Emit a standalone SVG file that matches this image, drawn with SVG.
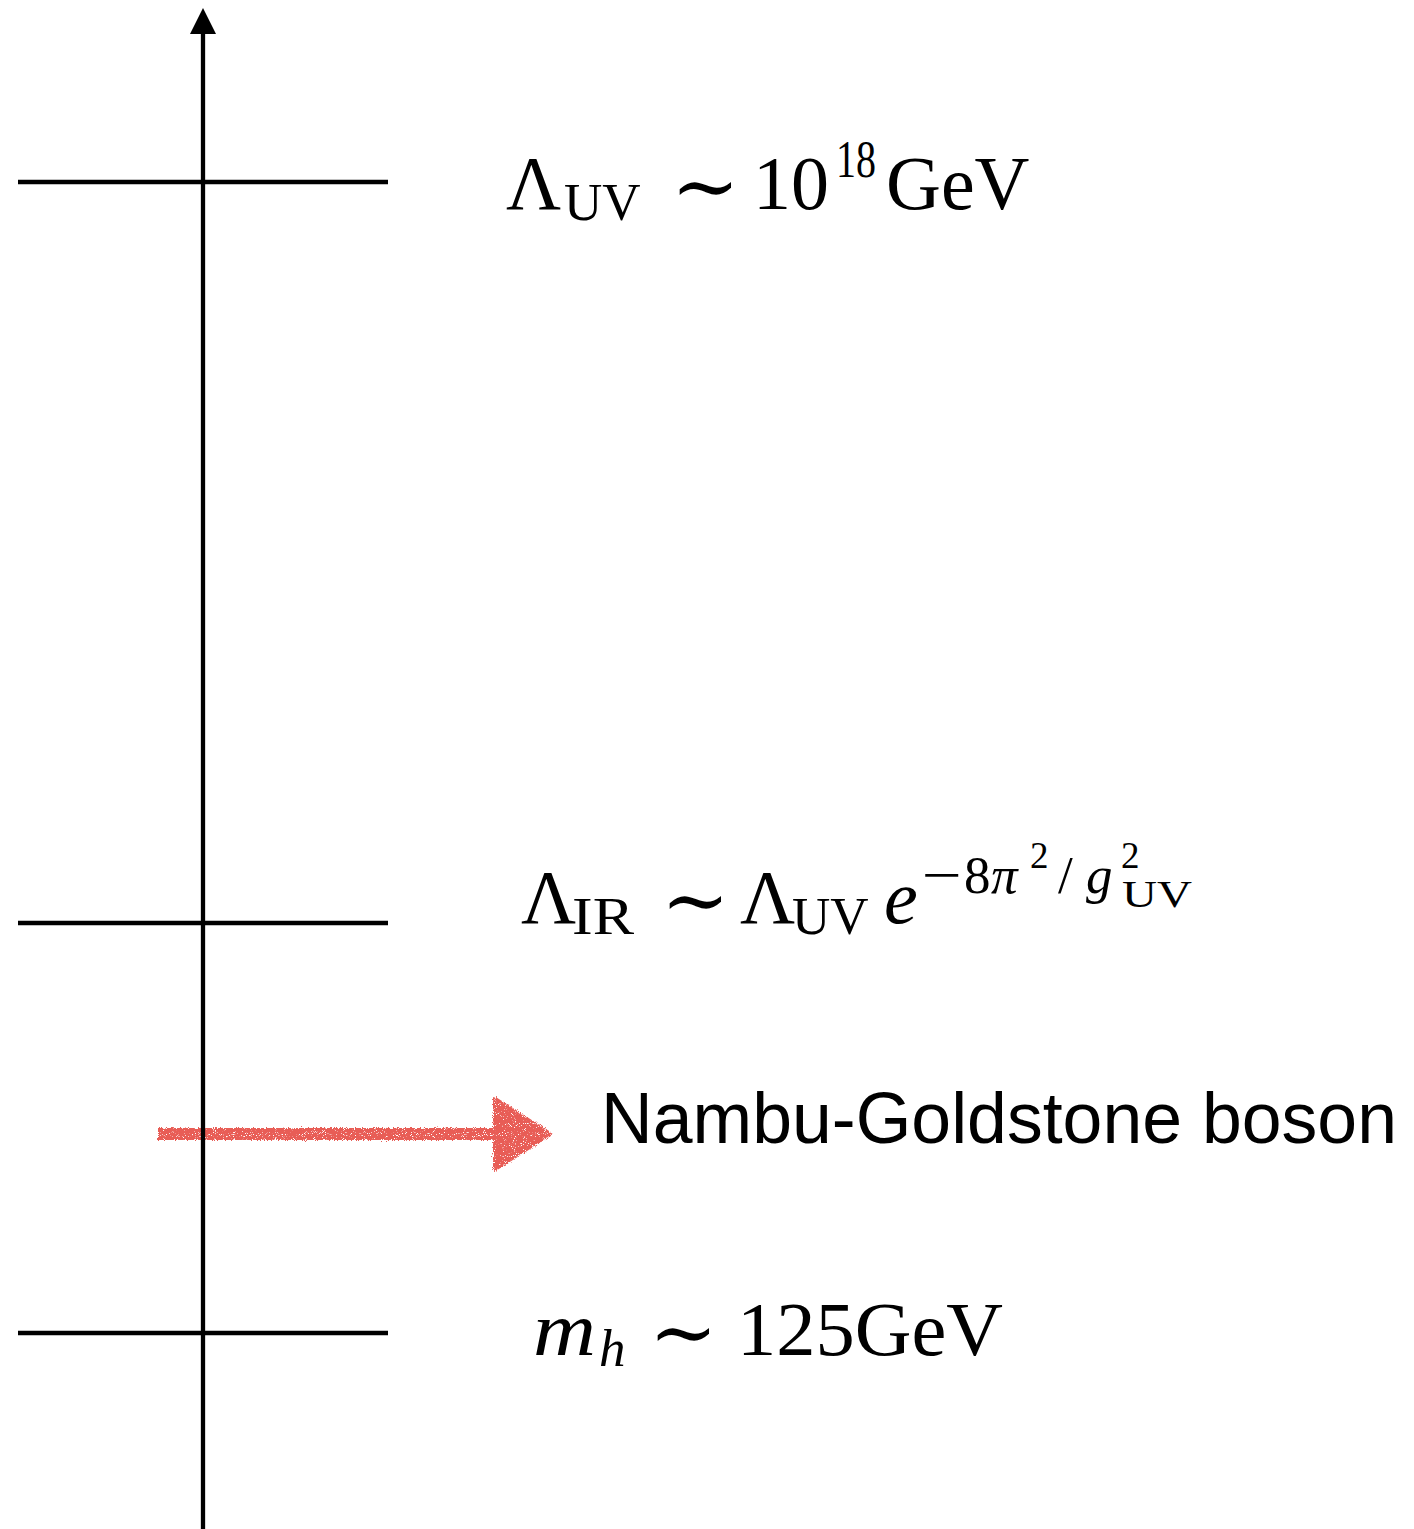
<svg xmlns="http://www.w3.org/2000/svg" width="1414" height="1529" viewBox="0 0 1414 1529">
  <style>
    .lvl { stroke: #000; stroke-width: 4.3; fill: none; }
    .axis { stroke: #000; stroke-width: 4.3; fill: none; }
    .m { font-family: "Liberation Serif", "DejaVu Serif", serif; fill: #000; }
    .big { font-size: 76px; }
    .sub { font-size: 53px; }
    .sub2 { font-size: 37px; }
    .it { font-style: italic; }
    .tl { font-family: "DejaVu Serif", "Liberation Serif", serif; font-size: 82px; }
    .sans { font-family: "Liberation Sans", Arial, sans-serif; font-size: 71.5px; fill: #000; }
  </style>
  <defs>
    <marker id="axhead" markerUnits="userSpaceOnUse" markerWidth="28" markerHeight="28" viewBox="0 0 28 28" refX="0" refY="14" orient="auto">
      <polygon points="0,1 26,14 0,27" fill="#000"/>
    </marker>
    <filter id="chalk" x="-5%" y="-30%" width="110%" height="160%">
      <feTurbulence type="fractalNoise" baseFrequency="0.9" numOctaves="2" seed="3" result="n"/>
      <feDisplacementMap in="SourceGraphic" in2="n" scale="5" xChannelSelector="R" yChannelSelector="G" result="d"/>
      <feTurbulence type="fractalNoise" baseFrequency="1.1" numOctaves="1" seed="7" result="n2"/>
      <feColorMatrix in="n2" type="matrix" values="0 0 0 0 0  0 0 0 0 0  0 0 0 0 0  11 0 0 0 -3.2" result="mask"/>
      <feComposite in="d" in2="mask" operator="in"/>
    </filter>
  </defs>

  <g id="connectors">
    <g id="ng-arrow" filter="url(#chalk)" fill="#E85D56" stroke="#E85D56">
      <line x1="158" y1="1134" x2="505" y2="1134" stroke-width="12"/>
      <polygon points="495,1099 550,1134 495,1169" stroke-width="4" stroke-linejoin="round"/>
    </g>
    <line id="energy-axis" class="axis" x1="203" y1="1529" x2="203" y2="34" marker-end="url(#axhead)"/>
  </g>

  <g id="level-uv">
    <line class="lvl" x1="18" y1="182" x2="388" y2="182"/>
    <text class="m big" y="209"><tspan x="506">Λ</tspan><tspan class="sub" x="564" y="220">UV</tspan><tspan class="tl" x="671" y="214">∼</tspan><tspan x="753" y="209">10</tspan><tspan class="sub" x="836" y="177" textLength="40" lengthAdjust="spacingAndGlyphs">18</tspan><tspan x="886" y="209">GeV</tspan></text>
  </g>

  <g id="level-ir">
    <line class="lvl" x1="18" y1="923" x2="388" y2="923"/>
    <text class="m big" y="923"><tspan x="521">Λ</tspan><tspan class="sub" x="572" y="934" textLength="62" lengthAdjust="spacingAndGlyphs">IR</tspan><tspan class="tl" x="661" y="928">∼</tspan><tspan x="740" y="923">Λ</tspan><tspan class="sub" x="792" y="934">UV</tspan><tspan class="it" x="884" y="923">e</tspan><tspan class="sub" x="922" y="893" textLength="40" lengthAdjust="spacingAndGlyphs">−</tspan><tspan class="sub" x="964" y="893">8</tspan><tspan class="sub it" x="991" y="893">π</tspan><tspan class="sub2" x="1030" y="868">2</tspan><tspan class="sub" x="1058" y="893">/</tspan><tspan class="sub it" x="1086" y="893">g</tspan><tspan class="sub2" x="1121" y="868">2</tspan><tspan class="sub2" x="1122" y="907" textLength="70" lengthAdjust="spacingAndGlyphs">UV</tspan></text>
  </g>

  <g id="level-ng">
    <text class="sans" x="601" y="1143" textLength="796" lengthAdjust="spacingAndGlyphs">Nambu-Goldstone boson</text>
  </g>

  <g id="level-higgs">
    <line class="lvl" x1="18" y1="1333" x2="388" y2="1333"/>
    <text class="m big" y="1355"><tspan class="it" x="533" textLength="63" lengthAdjust="spacingAndGlyphs">m</tspan><tspan class="sub it" x="599" y="1366">h</tspan><tspan class="tl" x="649" y="1360">∼</tspan><tspan x="737" y="1355" textLength="266" lengthAdjust="spacingAndGlyphs">125GeV</tspan></text>
  </g>
</svg>
